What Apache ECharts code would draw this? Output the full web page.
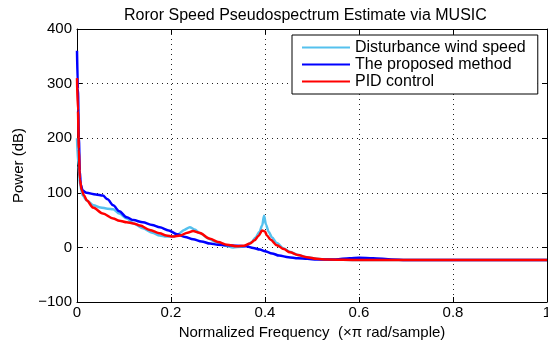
<!DOCTYPE html>
<html>
<head>
<meta charset="utf-8">
<script src="https://cdn.jsdelivr.net/npm/echarts@6/dist/echarts.min.js"></script>
<style>html,body{margin:0;padding:0;background:#fff;}#c{width:548px;height:350px;}</style>
</head>
<body>
<div id="c"></div>
<script>
var titleText = 'Roror Speed Pseudospectrum Estimate via MUSIC';
var xName = 'Normalized Frequency  (\u00d7\u03c0 rad/sample)';
var yName = 'Power (dB)';
var seriesNames = ['Disturbance wind speed', 'The proposed method', 'PID control'];
var xTicks = [0, 0.2, 0.4, 0.6, 0.8, 1];
var yTicks = [-100, 0, 100, 200, 300, 400];

var disturbance = [[0,200],[0.003,150],[0.007,112],[0.012,95],[0.021,86],[0.035,77],[0.05,73],[0.065,71],[0.077,70],[0.09,62],[0.106,53],[0.12,44],[0.14,35],[0.16,27],[0.176,22],[0.19,20],[0.204,20],[0.215,24],[0.228,32],[0.24,37],[0.25,33],[0.262,26],[0.28,16],[0.298,9],[0.315,3],[0.332,0],[0.35,1],[0.362,4],[0.372,10],[0.38,18],[0.388,28],[0.394,40],[0.398,58],[0.402,42],[0.408,28],[0.415,18],[0.425,8],[0.44,-2],[0.453,-8],[0.47,-14],[0.489,-18],[0.51,-21],[0.532,-22],[0.6,-23],[0.7,-23],[1,-23]];

var proposed = [[0,360],[0.002,290],[0.004,200],[0.006,140],[0.008,115],[0.012,104],[0.02,100],[0.04,97],[0.055,95],[0.065,88],[0.077,77],[0.09,66],[0.106,55],[0.12,50],[0.14,46],[0.16,41],[0.176,37],[0.195,31],[0.213,24],[0.23,19],[0.247,15],[0.265,11],[0.283,7],[0.3,5],[0.319,4],[0.34,3],[0.36,2],[0.375,-1],[0.389,-4],[0.4,-7],[0.415,-11],[0.43,-15],[0.45,-18],[0.47,-20],[0.49,-21],[0.51,-22],[0.55,-22],[0.58,-20],[0.6,-19],[0.63,-20],[0.67,-22],[0.7,-23],[1,-23]];

var pidControl = [[0,310],[0.002,250],[0.004,180],[0.006,125],[0.01,105],[0.015,95],[0.021,86],[0.034,73],[0.055,62],[0.077,53],[0.09,49],[0.106,46],[0.12,44],[0.134,40],[0.155,32],[0.176,26],[0.19,22],[0.204,20],[0.22,22],[0.235,27],[0.247,30],[0.26,27],[0.283,16],[0.3,10],[0.319,5],[0.34,2],[0.355,3],[0.368,7],[0.378,13],[0.386,21],[0.394,31],[0.4,29],[0.404,22],[0.412,14],[0.425,4],[0.44,-3],[0.453,-9],[0.47,-14],[0.489,-18],[0.51,-21],[0.532,-22],[0.6,-23],[1,-23]];

var colors = ['#55c1ee', '#0000ff', '#ff0000'];
var FONT = 'Liberation Sans, Arial, sans-serif';

function axisCommon(showLabel) {
  return {
    axisLine: {show: true, onZero: false, lineStyle: {color: '#000', width: 1}},
    axisTick: {show: true, inside: true, length: 5, lineStyle: {color: '#000'}},
    axisLabel: {show: showLabel, color: '#000', fontFamily: FONT, fontSize: 15},
    splitLine: {show: false}
  };
}

var xBottom = Object.assign(axisCommon(true), {
  type: 'value', min: xTicks[0], max: xTicks[xTicks.length-1], interval: 0.2, position: 'bottom',
  name: xName, nameLocation: 'middle', nameGap: 17,
  nameTextStyle: {color: '#000', fontFamily: FONT, fontSize: 15},
  splitLine: {show: true, lineStyle: {color: '#222', type: [1, 4], width: 1}}
});
xBottom.axisLabel.margin = 3;
xBottom.axisLabel.formatter = function(v){ return String(+v.toFixed(1)); };
var xTop = Object.assign(axisCommon(false), {type: 'value', min: 0, max: 1, interval: 0.2, position: 'top'});

var yLeft = Object.assign(axisCommon(true), {
  type: 'value', min: yTicks[0], max: yTicks[yTicks.length-1], interval: 100, position: 'left',
  name: yName, nameLocation: 'middle', nameGap: 51,
  nameTextStyle: {color: '#000', fontFamily: FONT, fontSize: 15},
  splitLine: {show: true, lineStyle: {color: '#222', type: [1, 4], width: 1}}
});
yLeft.axisLabel.margin = 5;
yLeft.axisLabel.formatter = function(v){ return String(v).replace('-', '\u2212'); };
var yRight = Object.assign(axisCommon(false), {type: 'value', min: -100, max: 400, interval: 100, position: 'right'});

function mkSeries(name, data, color) {
  return {
    name: name, type: 'line', data: data, xAxisIndex: 0, yAxisIndex: 0,
    symbol: 'none', smooth: 0.3, smoothMonotone: 'x',
    lineStyle: {color: color, width: 2.5}, itemStyle: {color: color},
    animation: false, clip: true
  };
}

var chart = echarts.init(document.getElementById('c'), null, {renderer: 'canvas'});
chart.setOption({
  backgroundColor: '#fff',
  animation: false,
  title: {
    text: titleText, left: 119, top: 3,
    textStyle: {color: '#000', fontFamily: FONT, fontSize: 16, fontWeight: 'normal'}
  },
  grid: {left: 77, right: 1, top: 29, bottom: 48, containLabel: false, outerBoundsMode: 'none'},
  legend: {
    orient: 'vertical', left: 292, top: 35,
    data: seriesNames,
    icon: 'rect', itemWidth: 48, itemHeight: 2, itemGap: 0,
    backgroundColor: '#fff', borderColor: '#000', borderWidth: 1,
    padding: [4, 12, 4, 10],
    textStyle: {color: '#000', fontFamily: FONT, fontSize: 16, lineHeight: 17}
  },
  xAxis: [xBottom, xTop],
  yAxis: [yLeft, yRight],
  series: [
    mkSeries(seriesNames[0], disturbance, colors[0]),
    mkSeries(seriesNames[1], proposed, colors[1]),
    mkSeries(seriesNames[2], pidControl, colors[2])
  ]
});
</script>
</body>
</html>
